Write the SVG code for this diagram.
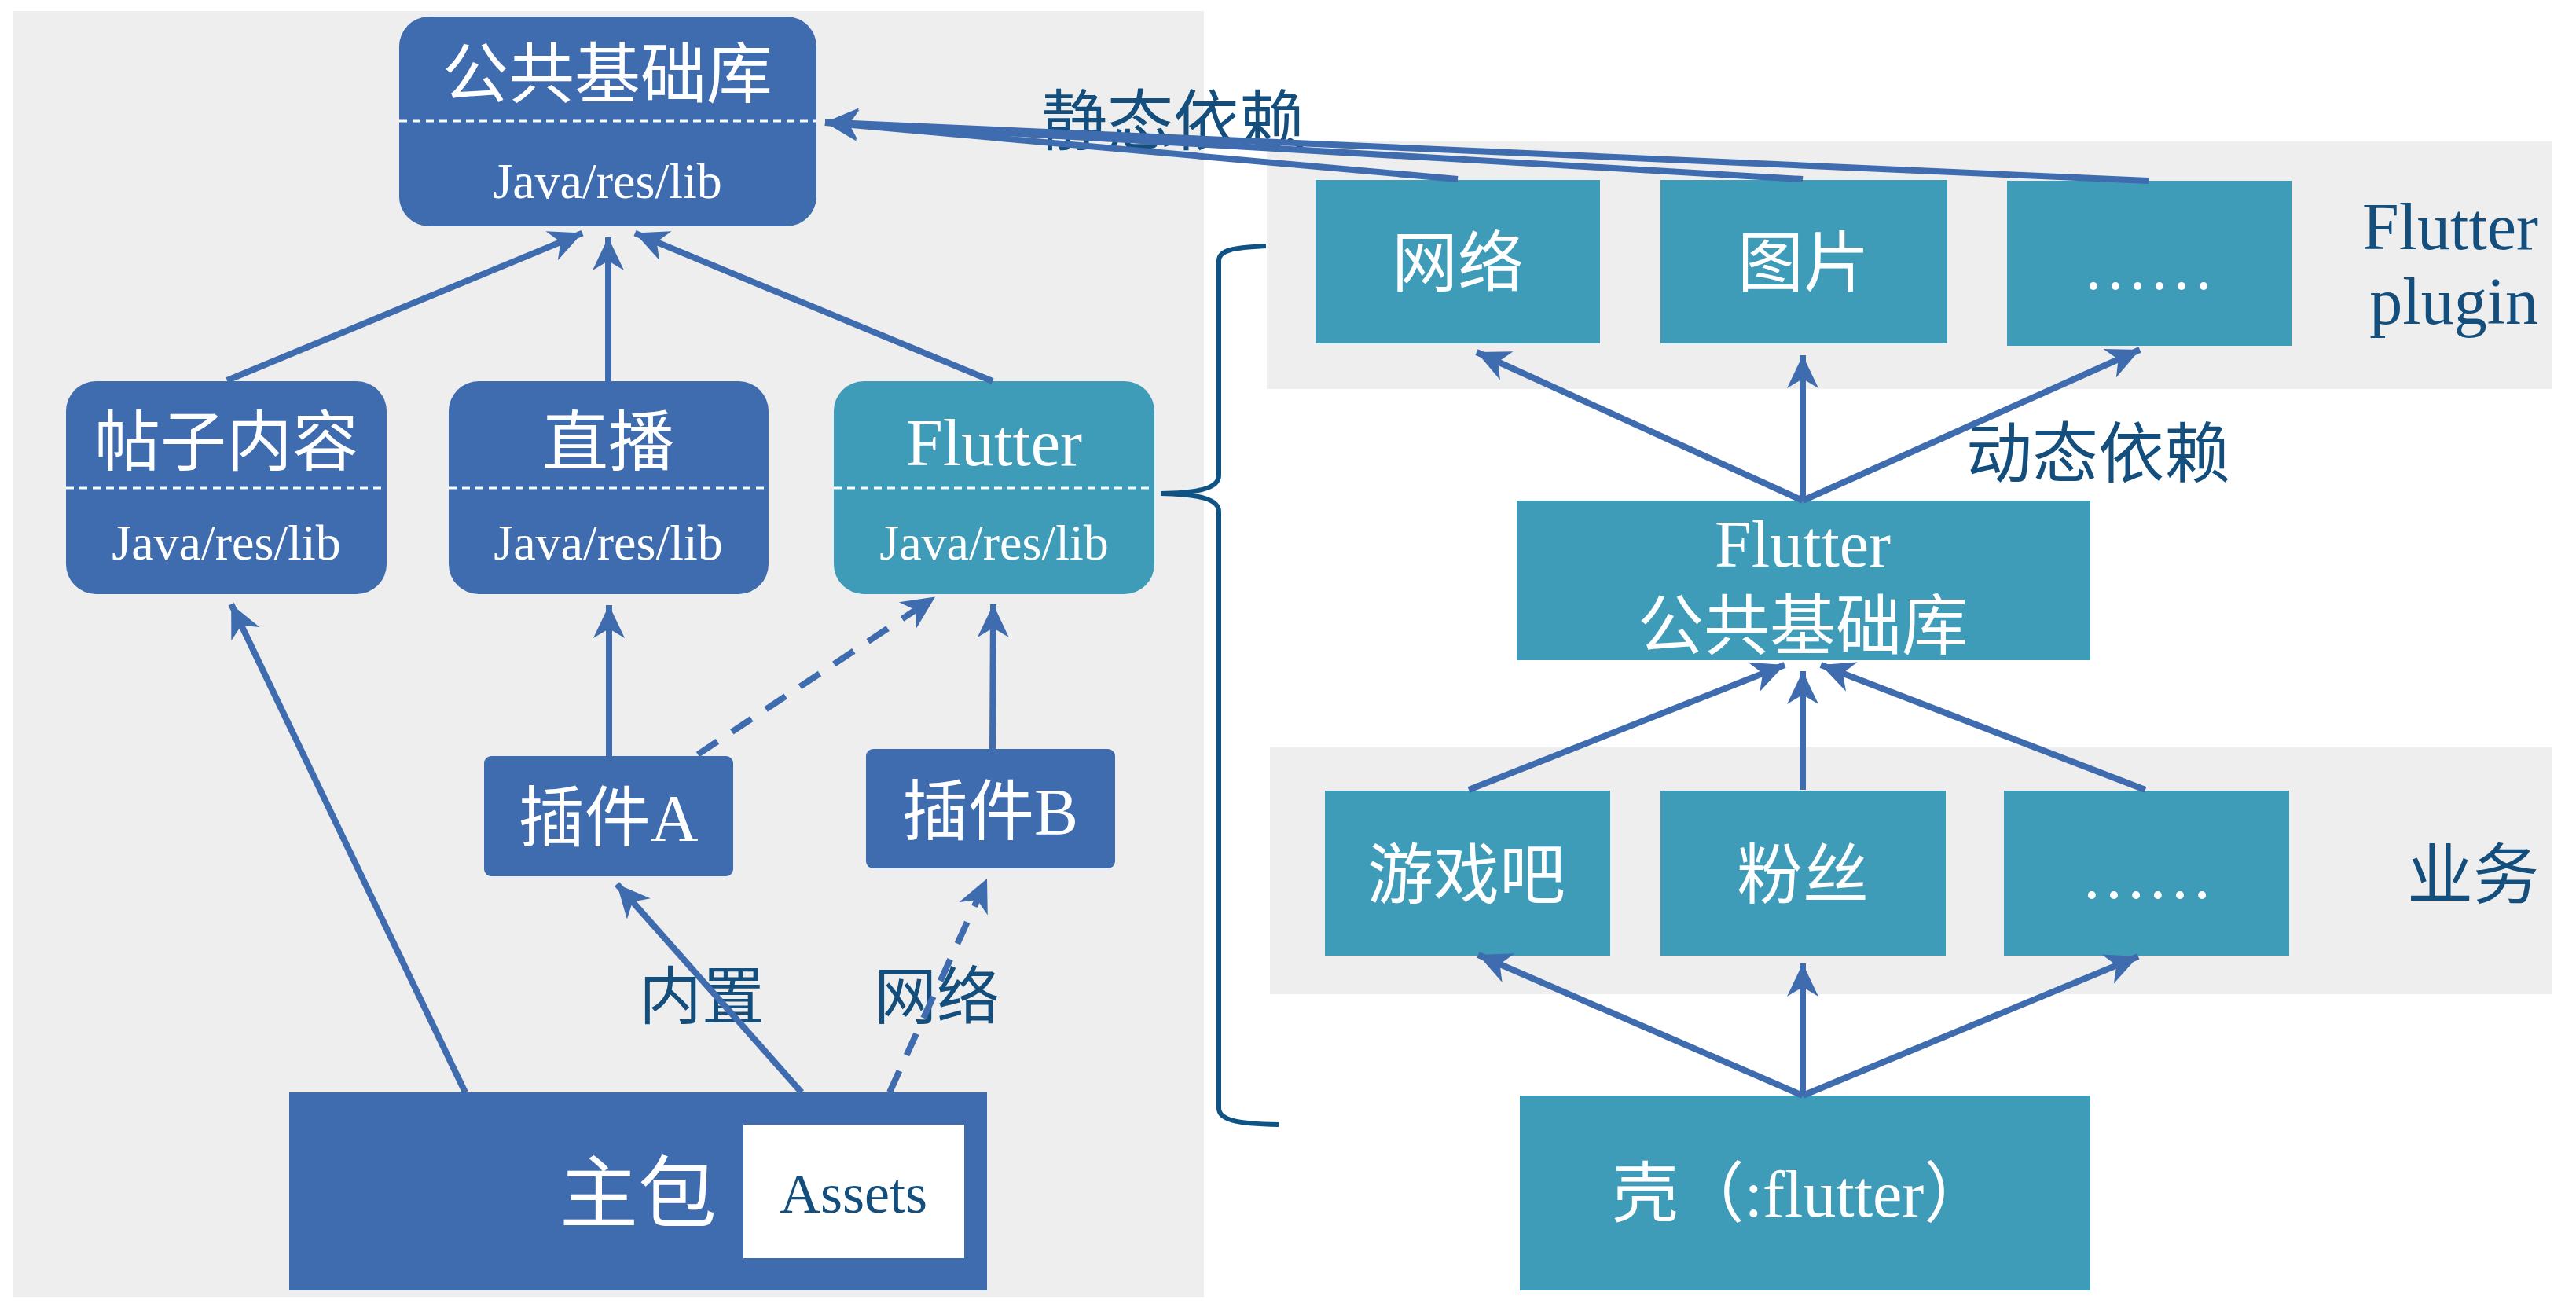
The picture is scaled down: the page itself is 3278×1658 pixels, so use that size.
<svg xmlns="http://www.w3.org/2000/svg" width="3278" height="1658" viewBox="0 0 3278 1658">
<defs>
<style>
.bg{fill:#EEEEEE}
.nb{fill:#3F6CAF}
.nt{fill:#3F9CB8}
.t{font-family:"Liberation Serif","Noto Sans CJK SC",serif;fill:#FFFFFF;text-anchor:middle}
.l{font-family:"Liberation Serif","Noto Sans CJK SC",serif;fill:#134E7D;text-anchor:middle}
.big{font-size:84px}
.sm{font-size:64px}
.sep{stroke:#FFFFFF;stroke-width:3;stroke-dasharray:10 7;fill:none}
.c{stroke:#3F6CAF;stroke-width:8;fill:none;marker-end:url(#a)}
.d{stroke-dasharray:30 22}
.brace{stroke:#0E5384;stroke-width:6;fill:none}
</style>
<marker id="a" markerUnits="userSpaceOnUse" viewBox="-44 -22 46 44" refX="0" refY="0" markerWidth="46" markerHeight="44" orient="auto">
<path d="M0,0 L-42,-20 L-30,0 L-42,20 Z" fill="#3F6CAF"/>
</marker>
</defs>
<rect width="3278" height="1658" fill="#FFFFFF"/>
<g id="backgrounds">
<rect class="bg" x="16" y="14" width="1516" height="1637"/>
<rect class="bg" x="1612" y="180" width="1636" height="315"/>
<rect class="bg" x="1616" y="950" width="1632" height="315"/>
</g>
<g id="base-lib">
<rect class="nb" x="508" y="21" width="531" height="267" rx="38" ry="38"/>
<line class="sep" x1="508" y1="154" x2="1039" y2="154"/>
<text class="t big" x="773" y="124">公共基础库</text>
<text class="t sm" x="773" y="252">Java/res/lib</text>
</g>
<g id="post-content">
<rect class="nb" x="84" y="485" width="408" height="271" rx="38" ry="38"/>
<line class="sep" x1="84" y1="621" x2="492" y2="621"/>
<text class="t big" x="288" y="592">帖子内容</text>
<text class="t sm" x="288" y="712">Java/res/lib</text>
</g>
<g id="live">
<rect class="nb" x="571" y="485" width="407" height="271" rx="38" ry="38"/>
<line class="sep" x1="571" y1="621" x2="978" y2="621"/>
<text class="t big" x="774" y="592">直播</text>
<text class="t sm" x="774" y="712">Java/res/lib</text>
</g>
<g id="flutter-module">
<rect class="nt" x="1061" y="485" width="408" height="271" rx="38" ry="38"/>
<line class="sep" x1="1061" y1="621" x2="1469" y2="621"/>
<text class="t big" x="1265" y="592">Flutter</text>
<text class="t sm" x="1265" y="712">Java/res/lib</text>
</g>
<g id="plugin-a">
<rect class="nb" x="616" y="962" width="317" height="153" rx="9" ry="9"/>
<text class="t big" x="774" y="1070">插件A</text>
</g>
<g id="plugin-b">
<rect class="nb" x="1102" y="953" width="317" height="152" rx="9" ry="9"/>
<text class="t big" x="1260" y="1062">插件B</text>
</g>
<g id="main-package">
<rect class="nb" x="368" y="1390" width="888" height="252"/>
<text class="t" x="812" y="1554" font-size="100">主包</text>
<rect x="946" y="1431" width="281" height="170" fill="#FFFFFF"/>
<text class="l" x="1086" y="1543" font-size="72">Assets</text>
</g>
<g id="net-plugin">
<rect class="nt" x="1674" y="229" width="362" height="208"/>
<text class="t big" x="1855" y="364">网络</text>
</g>
<g id="image-plugin">
<rect class="nt" x="2113" y="229" width="365" height="208"/>
<text class="t big" x="2295" y="364">图片</text>
</g>
<g id="more-plugin">
<rect class="nt" x="2554" y="230" width="362" height="210"/>
<text class="t big" x="2734" y="368">……</text>
</g>
<g id="flutter-plugin-label">
<text class="l big" x="3230" y="317" style="text-anchor:end">Flutter</text>
<text class="l big" x="3230" y="412" style="text-anchor:end">plugin</text>
</g>
<g id="flutter-base-lib">
<rect class="nt" x="1930" y="637" width="730" height="203"/>
<text class="t big" x="2294" y="721">Flutter</text>
<text class="t big" x="2294" y="826">公共基础库</text>
</g>
<g id="game">
<rect class="nt" x="1686" y="1006" width="363" height="210"/>
<text class="t big" x="1866" y="1143">游戏吧</text>
</g>
<g id="fans">
<rect class="nt" x="2113" y="1006" width="363" height="210"/>
<text class="t big" x="2294" y="1143">粉丝</text>
</g>
<g id="more-business">
<rect class="nt" x="2550" y="1006" width="363" height="210"/>
<text class="t big" x="2732" y="1143">……</text>
</g>
<g id="business-label">
<text class="l big" x="3147" y="1143">业务</text>
</g>
<g id="shell">
<rect class="nt" x="1934" y="1394" width="726" height="248"/>
<text class="t big" x="2292" y="1548">壳（:flutter）</text>
</g>
<g id="labels">
<text class="l big" x="1493" y="184">静态依赖</text>
<text class="l big" x="2670" y="607">动态依赖</text>
<text class="l" x="893" y="1296" font-size="80">内置</text>
<text class="l" x="1192" y="1296" font-size="80">网络</text>
</g>
<g id="connectors">
<line class="c" x1="289" y1="484" x2="741" y2="296.6"/>
<line class="c" x1="774" y1="485" x2="774" y2="302"/>
<line class="c" x1="1263" y1="485" x2="808" y2="296.6"/>
<line class="c" x1="592" y1="1390" x2="294.2" y2="768.8"/>
<line class="c" x1="775" y1="962" x2="775" y2="770"/>
<line class="c d" x1="888" y1="960" x2="1190" y2="759.6"/>
<line class="c" x1="1263" y1="953" x2="1264" y2="769"/>
<line class="c" x1="1020" y1="1390" x2="785" y2="1125"/>
<line class="c d" x1="1132" y1="1390" x2="1256" y2="1118"/>
<line class="c" x1="1855" y1="228" x2="1050" y2="156"/>
<line class="c" x1="2294" y1="228" x2="1050" y2="155.7"/>
<line class="c" x1="2734" y1="230" x2="1050" y2="155.5"/>
<line class="c" x1="2294" y1="637" x2="1879" y2="448"/>
<line class="c" x1="2294" y1="637" x2="2294" y2="452"/>
<line class="c" x1="2294" y1="637" x2="2723" y2="445"/>
<line class="c" x1="1869" y1="1005" x2="2271" y2="846"/>
<line class="c" x1="2294" y1="1005" x2="2294" y2="854"/>
<line class="c" x1="2730" y1="1005" x2="2317" y2="846"/>
<line class="c" x1="2294" y1="1394" x2="1881" y2="1215"/>
<line class="c" x1="2294" y1="1394" x2="2294" y2="1226"/>
<line class="c" x1="2294" y1="1394" x2="2721" y2="1217"/>
<path class="brace" d="M1611,313 C1570,315 1551,318 1551,332 L1551,605 C1551,620 1530,627 1477,628 C1530,629 1551,636 1551,651 L1551,1410 C1551,1424 1570,1430 1627,1431"/>
</g>
</svg>
